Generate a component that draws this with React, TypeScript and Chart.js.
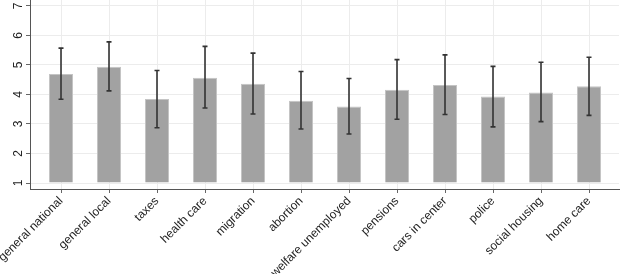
import React, { useEffect, useRef } from "react";
import { Chart, registerables } from "chart.js";

Chart.register(...registerables);

const categories = [
  "general national",
  "general local",
  "taxes",
  "health care",
  "migration",
  "abortion",
  "welfare unemployed",
  "pensions",
  "cars in center",
  "police",
  "social housing",
  "home care",
];
const means = [4.69, 4.94, 3.85, 4.57, 4.36, 3.79, 3.59, 4.16, 4.32, 3.93, 4.07, 4.28];
const upper = [5.57, 5.78, 4.81, 5.63, 5.40, 4.78, 4.54, 5.18, 5.34, 4.95, 5.09, 5.26];
const lower = [3.84, 4.12, 2.87, 3.54, 3.34, 2.83, 2.66, 3.16, 3.32, 2.90, 3.08, 3.29];
const yTicks = [1, 2, 3, 4, 5, 6, 7];

const FONT = "'Liberation Sans', Arial, Helvetica, sans-serif";

export default function App() {
  const ref = useRef<HTMLCanvasElement | null>(null);

  useEffect(() => {
    if (!ref.current) return;

    const errorBars = {
      id: "errorBars",
      afterDatasetsDraw(chart: any) {
        const ctx = chart.ctx;
        const meta = chart.getDatasetMeta(0);
        const ys = chart.scales.y;
        ctx.save();
        ctx.strokeStyle = "#333333";
        ctx.lineWidth = 1.6;
        meta.data.forEach((bar: any, i: number) => {
          const x = bar.x;
          const yt = ys.getPixelForValue(upper[i]);
          const yb = ys.getPixelForValue(lower[i]);
          ctx.beginPath();
          ctx.moveTo(x, yt);
          ctx.lineTo(x, yb);
          ctx.moveTo(x - 2.5, yt);
          ctx.lineTo(x + 2.5, yt);
          ctx.moveTo(x - 2.5, yb);
          ctx.lineTo(x + 2.5, yb);
          ctx.stroke();
        });
        ctx.restore();
      },
    };

    const yLabels = {
      id: "yLabels",
      afterDraw(chart: any) {
        const ctx = chart.ctx;
        const ys = chart.scales.y;
        ctx.save();
        ctx.fillStyle = "#222222";
        ctx.font = `12px ${FONT}`;
        ctx.textAlign = "center";
        ctx.textBaseline = "middle";
        yTicks.forEach((v) => {
          const y = ys.getPixelForValue(v);
          ctx.save();
          ctx.translate(19, y);
          ctx.rotate(-Math.PI / 2);
          ctx.fillText(String(v), 0, 0);
          ctx.restore();
        });
        ctx.restore();
      },
    };

    const chart = new Chart(ref.current, {
      type: "bar",
      data: {
        datasets: [
          {
            data: means.map((v, i) => ({ x: i, y: v })),
            base: 1,
            backgroundColor: "#a2a2a2",
            borderColor: "#c4c4c4",
            borderWidth: 1,
            barPercentage: 0.5,
            categoryPercentage: 1,
          } as any,
        ],
      },
      options: {
        animation: false,
        responsive: false,
        layout: { padding: { left: 0, right: 1, top: 0, bottom: 0 } },
        plugins: {
          legend: { display: false },
          tooltip: { enabled: false },
        },
        scales: {
          x: {
            type: "linear",
            offset: false,
            min: -0.646,
            max: 11.625,
            grid: {
              offset: false,
              color: "#ececec",
              lineWidth: 1,
              tickColor: "#666666",
              tickLength: 4,
            },
            border: { color: "#555555", width: 1 },
            afterBuildTicks: (scale: any) => {
              scale.ticks = categories.map((_, i) => ({ value: i }));
            },
            afterFit: (scale: any) => {
              scale.height = 85;
              scale.paddingLeft = 0;
              scale.paddingRight = 0;
            },
            ticks: {
              autoSkip: false,
              minRotation: 45,
              maxRotation: 45,
              padding: 1,
              color: "#222222",
              font: { family: FONT, size: 12 },
              callback: (v: any) => categories[Math.round(Number(v))] ?? "",
            },
          },
          y: {
            type: "linear",
            min: 0.797,
            max: 7.2,
            grid: {
              color: "#ececec",
              lineWidth: 1,
              tickColor: "#666666",
              tickLength: 4,
            },
            border: { color: "#555555", width: 1 },
            afterBuildTicks: (scale: any) => {
              scale.ticks = yTicks.map((v) => ({ value: v }));
            },
            afterFit: (scale: any) => {
              scale.width = 30;
              scale.paddingTop = 0;
              scale.paddingBottom = 0;
            },
            ticks: { display: false },
          },
        },
      } as any,
      plugins: [errorBars, yLabels],
    });

    return () => chart.destroy();
  }, []);

  return (
    <div style={{ position: "absolute", left: 0, top: 0, width: 620, height: 274, background: "#fff" }}>
      <canvas ref={ref} width={620} height={274} />
    </div>
  );
}
